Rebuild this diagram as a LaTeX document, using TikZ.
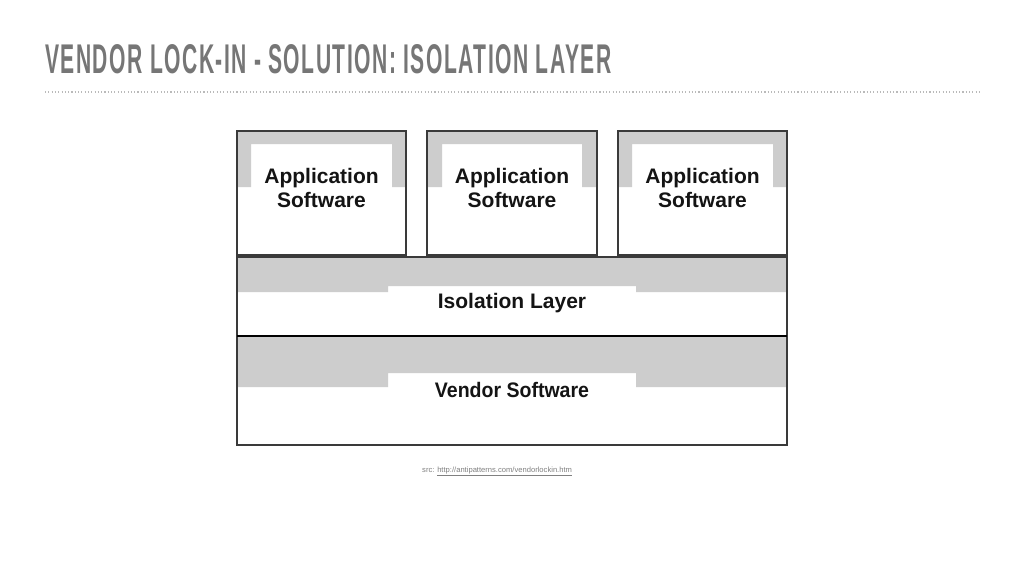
\documentclass[tikz,border=0pt]{standalone}
\usepackage{fontspec}
\setmainfont{Liberation Sans}
\usepackage{graphicx}
\definecolor{bandgray}{HTML}{CDCDCD}
\definecolor{edgegray}{HTML}{3A3A3A}
\definecolor{titlegray}{HTML}{767676}
\tikzset{
  band/.style={fill=bandgray,draw=none},
  layerbox/.style={draw=edgegray,line width=1.3pt},
  boxtext/.style={font=\fontsize{21}{24}\selectfont\bfseries,inner sep=0pt,align=center,text=black!92},
}
\begin{document}
\begin{tikzpicture}[x=1pt,y=-1pt]
\useasboundingbox (0,0) rectangle (1024,576);
\fill[white] (0,0) rectangle (1024,576);
\node[anchor=base west,inner sep=0pt,text=titlegray] (title) at (45,73) {\resizebox{566pt}{29pt}{\bfseries\addfontfeature{LetterSpace=7}VENDOR LOCK-IN - SOLUTION: ISOLATION LAYER}};
\coordinate (rulew) at (45,92);
\coordinate (rulee) at (980,92);
\draw[titlegray!50,line width=1.1pt,dash pattern=on 1.1pt off 2.2pt] (rulew) -- (rulee);
% application boxes
  \fill[band] (237,131) -- (406,131) -- (406,187) -- (392,187) -- (392,144) -- (251,144) -- (251,187) -- (237,187) -- cycle;
  \draw[layerbox] (237,131) rectangle (406,255);
  \node[boxtext,anchor=base] (app1) at (321.5,207) {Application\\Software};
  \fill[band] (427,131) -- (597,131) -- (597,187) -- (582,187) -- (582,144) -- (442,144) -- (442,187) -- (427,187) -- cycle;
  \draw[layerbox] (427,131) rectangle (597,255);
  \node[boxtext,anchor=base] (app2) at (512,207) {Application\\Software};
  \fill[band] (618,131) -- (787,131) -- (787,187) -- (773,187) -- (773,144) -- (632,144) -- (632,187) -- (618,187) -- cycle;
  \draw[layerbox] (618,131) rectangle (787,255);
  \node[boxtext,anchor=base] (app3) at (702.5,207) {Application\\Software};
% isolation layer
  \fill[band] (237,257) -- (787,257) -- (787,292) -- (636,292) -- (636,286) -- (388,286) -- (388,292) -- (237,292) -- cycle;
  \draw[layerbox] (237,257) rectangle (787,336);
  \node[boxtext,anchor=base] (iso) at (512,308) {Isolation Layer};
% vendor software
  \fill[band] (237,336) -- (787,336) -- (787,387) -- (636,387) -- (636,373) -- (388,373) -- (388,387) -- (237,387) -- cycle;
  \draw[layerbox] (237,336) rectangle (787,445);
  \draw[black,line width=2.2pt] (237,336) -- (787,336);
  \node[boxtext,anchor=base,xscale=0.93] (vendor) at (512,397) {Vendor Software};
\node[anchor=base west,inner sep=0pt,font=\fontsize{7.6}{9}\selectfont,text=gray] (src) at (422,472) {src: \underline{http://antipatterns.com/vendorlockin.htm}};
\end{tikzpicture}
\end{document}
